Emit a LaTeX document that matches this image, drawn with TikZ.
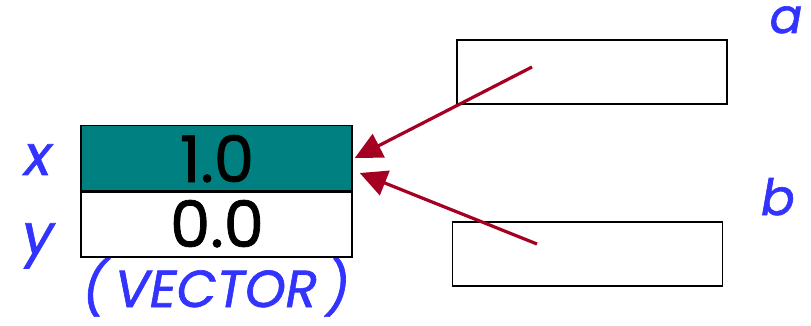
\documentclass[tikz,border=0pt]{standalone}
\usepackage{fontspec}
\newfontfamily\hand[FakeBold=1.2]{Poppins}
\usetikzlibrary{positioning,arrows.meta}
\definecolor{cellteal}{RGB}{0,128,128}
\definecolor{ptrred}{RGB}{165,0,33}
\definecolor{namblue}{RGB}{51,51,255}

\begin{document}
\begin{tikzpicture}[
    x=1pt, y=-1pt,
    % define styles
    cell/.style={
        draw=black,
        line width=1.5pt,
        rectangle,
        inner sep=0pt,
        minimum width=271pt,
        minimum height=65pt
    },
    digits/.style={
        anchor=base,
        inner sep=0pt,
        font=\hand\fontsize{64}{64}\selectfont
    },
    refbox/.style={
        draw=black,
        line width=1.5pt,
        rectangle,
        inner sep=0pt,
        minimum width=270pt,
        minimum height=64pt
    },
    varname/.style={
        text=namblue,
        anchor=base,
        inner sep=0pt,
        font=\hand\itshape\fontsize{56}{56}\selectfont
    },
    ptr/.style={
        draw=ptrred,
        line width=3.2pt,
        -{Triangle[length=27pt,width=26pt]}
    }
]
\useasboundingbox (0,0) rectangle (811,326);

% The vector object with its two fields
\node[cell,fill=cellteal] at (216.5,158) (xcell) {};
\node[cell,fill=white,below=0pt of xcell] (ycell) {};
\node[digits] at (217,182) (xval) {1.0};
\node[digits] at (217,247) (yval) {0.0};
\node[varname] at (38,175) (xname) {x};
\node[varname] at (38,254) (yname) {y};
\node[varname,font=\hand\itshape\fontsize{52}{52}\selectfont] at (216,307) (vtype) {(\,VECTOR\,)};

% The two references
\node[refbox] at (592,72) (acell) {};
\node[refbox] at (587.5,254) (bcell) {};
\node[varname,font=\hand\itshape\fontsize{48}{48}\selectfont] at (786,33) (aname) {a};
\node[varname,font=\hand\itshape\fontsize{50}{50}\selectfont] at (778,215) (bname) {b};

% Arrows from a and b into the object
\coordinate (afrom) at (532,67);
\coordinate (bfrom) at (537,244);
\draw[ptr] (afrom) -- ([xshift=2pt]xcell.east);
\draw[ptr] (bfrom) -- ([xshift=7pt,yshift=-15pt]xcell.east);
\end{tikzpicture}
\end{document}
